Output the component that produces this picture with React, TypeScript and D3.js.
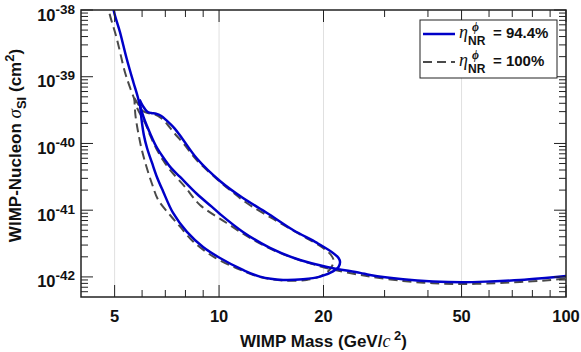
import React from 'react'
import * as d3 from 'd3'

// chart size and plot box
const width = 581
const height = 352
const margin = { top: 10, right: 15, bottom: 55, left: 81 }

// axes
const massDomain: [number, number] = [4, 100]
const sigmaDomain: [number, number] = [5e-43, 1e-38]
const massMajor = [5, 10, 20, 50, 100]
const massMinor = [6, 7, 8, 9, 30, 40, 60, 70, 80, 90]
const sigmaExponents = [-42, -41, -40, -39, -38]

// legend
const legendLabels = ['94.4%', '100%']

// [mass GeV, sigma cm^2]
// eta = 94.4%, open contour coming in from the top and running out to 100 GeV
const solidOpen: [number, number][] = [
  [4.93, 1.41e-38], [4.98, 9.43e-39], [5.18, 4.68e-39], [5.41, 1.91e-39], [5.66, 8.34e-40],
  [5.82, 5.14e-40], [5.92, 3.65e-40], [6.07, 2.41e-40], [6.32, 1.44e-40], [6.58, 9.16e-41],
  [6.89, 6.27e-41], [7.27, 4.3e-41], [7.72, 3.15e-41], [8.64, 1.75e-41], [9.54, 1.12e-41],
  [10.06, 8.77e-42], [11.72, 4.72e-42], [14.02, 2.72e-42], [17.11, 1.79e-42], [20.47, 1.41e-42],
  [25.5, 1.15e-42], [27.23, 1.07e-42], [33.91, 9.22e-43], [41.38, 8.55e-43], [50.49, 8.32e-43],
  [60.4, 8.55e-43], [73.73, 9.0e-43], [87.04, 9.64e-43], [100, 1.03e-42],
]

// eta = 94.4%, closed contour
const solidLoop: [number, number][] = [
  [5.9, 4.56e-40], [6.03, 3.65e-40], [6.2, 3.02e-40], [6.37, 2.86e-40], [6.58, 2.79e-40],
  [6.8, 2.6e-40], [7.08, 2.18e-40], [7.43, 1.7e-40], [7.82, 1.2e-40], [8.62, 6.0e-41],
  [10.06, 2.74e-41], [11.72, 1.52e-41], [13.75, 9.08e-42], [16.34, 5.05e-42], [19.16, 3.23e-42],
  [21.3, 2.29e-42], [22.1, 1.92e-42], [22.32, 1.67e-42], [22.1, 1.41e-42], [21.3, 1.21e-42],
  [19.55, 1.01e-42], [17.46, 9.22e-43], [15.29, 9.0e-43], [13.12, 1.01e-42], [11.72, 1.27e-42],
  [10.06, 1.92e-42], [8.99, 2.81e-42], [8.08, 4.72e-42], [7.37, 9.08e-42], [6.89, 1.94e-41],
  [6.62, 3.15e-41], [6.41, 5.1e-41], [6.2, 8.55e-41], [6.07, 1.34e-40], [5.99, 2.1e-40],
  [5.94, 3.18e-40], [5.9, 4.56e-40],
]

// eta = 100%, open contour
const dashedOpen: [number, number][] = [
  [4.77, 1.41e-38], [4.82, 9.43e-39], [5.07, 3.77e-39], [5.35, 1.19e-39], [5.57, 6.33e-40],
  [5.7, 4.64e-40], [5.84, 3.18e-40], [6.12, 2.03e-40], [6.32, 1.34e-40], [6.58, 8.55e-41],
  [6.89, 5.65e-41], [7.22, 4.01e-41], [7.98, 2.23e-41], [8.81, 1.2e-41], [10.52, 6.43e-42],
  [12.28, 3.84e-42], [14.66, 2.39e-42], [18.29, 1.6e-42], [21.3, 1.29e-42], [25.5, 1.07e-42],
  [27.23, 1.01e-42], [33.91, 8.7e-43], [41.38, 8.04e-43], [50.49, 7.84e-43], [62.4, 8.04e-43],
  [73.73, 8.4e-43], [87.04, 8.85e-43], [100, 9.48e-43],
]

// eta = 100%, closed contour
const dashedLoop: [number, number][] = [
  [5.7, 4.8e-40], [5.84, 3.91e-40], [6.03, 3.07e-40], [6.24, 2.86e-40], [6.54, 2.72e-40],
  [6.8, 2.41e-40], [7.08, 1.96e-40], [7.38, 1.49e-40], [7.92, 9.82e-41], [8.62, 5.65e-41],
  [9.85, 2.94e-41], [10.97, 1.84e-41], [12.02, 1.28e-41], [14.33, 7.38e-42], [17.11, 4.33e-42],
  [19.94, 2.72e-42], [21.02, 2.13e-42], [21.38, 1.79e-42], [21.17, 1.46e-42], [20.47, 1.17e-42],
  [19.55, 1.02e-42], [17.89, 9.0e-43], [15.29, 8.85e-43], [13.12, 9.98e-43], [11.24, 1.35e-42],
  [9.63, 2.01e-42], [8.43, 3.37e-42], [7.72, 5.66e-42], [7.22, 8.47e-42], [6.68, 1.42e-41],
  [6.41, 2.47e-41], [6.18, 4.44e-41], [5.99, 7.98e-41], [5.85, 1.44e-40], [5.74, 2.67e-40],
  [5.7, 4.8e-40],
]

const BLUE = '#0000c8'
const GREY = '#4a4a4a'
const AXIS = '#222'
const FONT = '"Liberation Sans", Arial, Helvetica, sans-serif'
const SERIF = '"Liberation Serif", "DejaVu Serif", serif'

const App = () => {
  const x0 = margin.left
  const x1 = width - margin.right
  const y0 = margin.top
  const y1 = height - margin.bottom

  const x = d3.scaleLog().domain(massDomain).range([x0, x1])
  const y = d3.scaleLog().domain(sigmaDomain).range([y1, y0])

  const line = d3.line<[number, number]>()
    .x(d => x(d[0]))
    .y(d => y(d[1]))
    .curve(d3.curveCatmullRom.alpha(0.5))

  // minor ticks on log y axis: 2..9 in every decade
  const sigmaMinor: number[] = []
  for (let e = -43; e <= -39; e++) {
    for (let k = 2; k <= 9; k++) {
      const v = k * Math.pow(10, e)
      if (v > sigmaDomain[0] * 1.01 && v < sigmaDomain[1]) sigmaMinor.push(v)
    }
  }

  const majorLen = 12
  const minorLen = 7
  const dash = '9,5'

  return (
    <svg width={width} height={height} style={{ position: 'fixed', left: 0, top: 0, background: '#fff' }}
      fontFamily={FONT}>
      <defs>
        <clipPath id="plot-clip">
          <rect x={x0} y={y0} width={x1 - x0} height={y1 - y0} />
        </clipPath>
      </defs>
      <rect x={0} y={0} width={width} height={height} fill="#fff" />

      {/* grid */}
      <g stroke="#e0e0e0" strokeWidth={1}>
        {massMajor.filter(m => m < massDomain[1]).map(m => (
          <line key={'gx' + m} x1={x(m)} x2={x(m)} y1={y0} y2={y1} />
        ))}
        {sigmaExponents.filter(e => e > -38).map(e => (
          <line key={'gy' + e} x1={x0} x2={x1} y1={y(Math.pow(10, e))} y2={y(Math.pow(10, e))} />
        ))}
      </g>

      {/* contours */}
      <g clipPath="url(#plot-clip)" fill="none" strokeLinejoin="round" strokeLinecap="butt">
        <path d={line(dashedOpen) || ''} stroke={GREY} strokeWidth={2} strokeDasharray={dash} />
        <path d={line(dashedLoop) || ''} stroke={GREY} strokeWidth={2} strokeDasharray={dash} />
        <path d={line(solidOpen) || ''} stroke={BLUE} strokeWidth={2.5} />
        <path d={line(solidLoop) || ''} stroke={BLUE} strokeWidth={2.5} />
      </g>

      {/* ticks */}
      <g stroke={AXIS} strokeWidth={1}>
        {massMajor.map(m => (
          <g key={'tx' + m}>
            <line x1={x(m)} x2={x(m)} y1={y1} y2={y1 - majorLen} />
            <line x1={x(m)} x2={x(m)} y1={y0} y2={y0 + majorLen} />
          </g>
        ))}
        {massMinor.map(m => (
          <g key={'mx' + m}>
            <line x1={x(m)} x2={x(m)} y1={y1} y2={y1 - minorLen} />
            <line x1={x(m)} x2={x(m)} y1={y0} y2={y0 + minorLen} />
          </g>
        ))}
        {sigmaExponents.map(e => (
          <g key={'ty' + e}>
            <line x1={x0} x2={x0 + majorLen} y1={y(Math.pow(10, e))} y2={y(Math.pow(10, e))} />
            <line x1={x1} x2={x1 - majorLen} y1={y(Math.pow(10, e))} y2={y(Math.pow(10, e))} />
          </g>
        ))}
        {sigmaMinor.map((v, i) => (
          <g key={'my' + i}>
            <line x1={x0} x2={x0 + minorLen} y1={y(v)} y2={y(v)} />
            <line x1={x1} x2={x1 - minorLen} y1={y(v)} y2={y(v)} />
          </g>
        ))}
      </g>

      {/* box */}
      <rect x={x0} y={y0} width={x1 - x0} height={y1 - y0} fill="none" stroke={AXIS} strokeWidth={1.5} />

      {/* tick labels */}
      <g fontWeight="bold" fill="#111">
        {massMajor.map(m => (
          <text key={'lx' + m} x={x(m)} y={y1 + 24.5} textAnchor="middle" fontSize={16.5}>{d3.format('d')(m)}</text>
        ))}
        {sigmaExponents.map(e => (
          <text key={'ly' + e} x={x0 - 6} y={y(Math.pow(10, e)) + 10.5} textAnchor="end" fontSize={16.5}>
            <tspan>10</tspan>
            <tspan fontSize={13.5} dy={-7}>{'-' + Math.abs(e)}</tspan>
          </text>
        ))}
      </g>

      {/* axis titles */}
      <text x={(x0 + x1) / 2} y={height - 5} textAnchor="middle" fontWeight="bold" fontSize={17} fill="#111">
        <tspan>WIMP Mass (GeV/</tspan>
        <tspan fontFamily={SERIF} fontStyle="italic" fontWeight="normal" fontSize={18}>c</tspan>
        <tspan fontSize={13} dy={-7}> 2</tspan>
        <tspan dy={7}>)</tspan>
      </text>
      <text transform={`translate(21,${(y0 + y1) / 2 - 8}) rotate(-90)`} textAnchor="middle"
        fontWeight="bold" fontSize={17} fill="#111">
        <tspan>WIMP-Nucleon </tspan>
        <tspan fontFamily={SERIF} fontStyle="italic" fontWeight="normal" fontSize={19}>σ</tspan>
        <tspan fontSize={13} dy={5}>SI</tspan>
        <tspan dy={-5}> (cm</tspan>
        <tspan fontSize={13} dy={-7}>2</tspan>
        <tspan dy={7}>)</tspan>
      </text>

      {/* legend */}
      <g>
        <rect x={420} y={20} width={137} height={58} fill="#fff" stroke={AXIS} strokeWidth={1} />
        {legendLabels.map((lab, i) => {
          const ly = 34 + i * 28
          return (
            <g key={'lg' + i}>
              <line x1={423} x2={455} y1={ly} y2={ly}
                stroke={i === 0 ? BLUE : GREY} strokeWidth={i === 0 ? 2.5 : 2}
                strokeDasharray={i === 0 ? undefined : dash} />
              <text x={459} y={ly + 4} fontFamily={SERIF} fontStyle="italic" fontSize={18} fill="#111">η</text>
              <text x={472} y={ly - 3} fontFamily={SERIF} fontStyle="italic" fontWeight="bold" fontSize={12} fill="#111">ϕ</text>
              <text x={468} y={ly + 11} fontWeight="bold" fontSize={12} fill="#111">NR</text>
              <text x={493} y={ly + 4} fontWeight="bold" fontSize={15} fill="#111">{'= ' + lab}</text>
            </g>
          )
        })}
      </g>
    </svg>
  )
}

export default App
